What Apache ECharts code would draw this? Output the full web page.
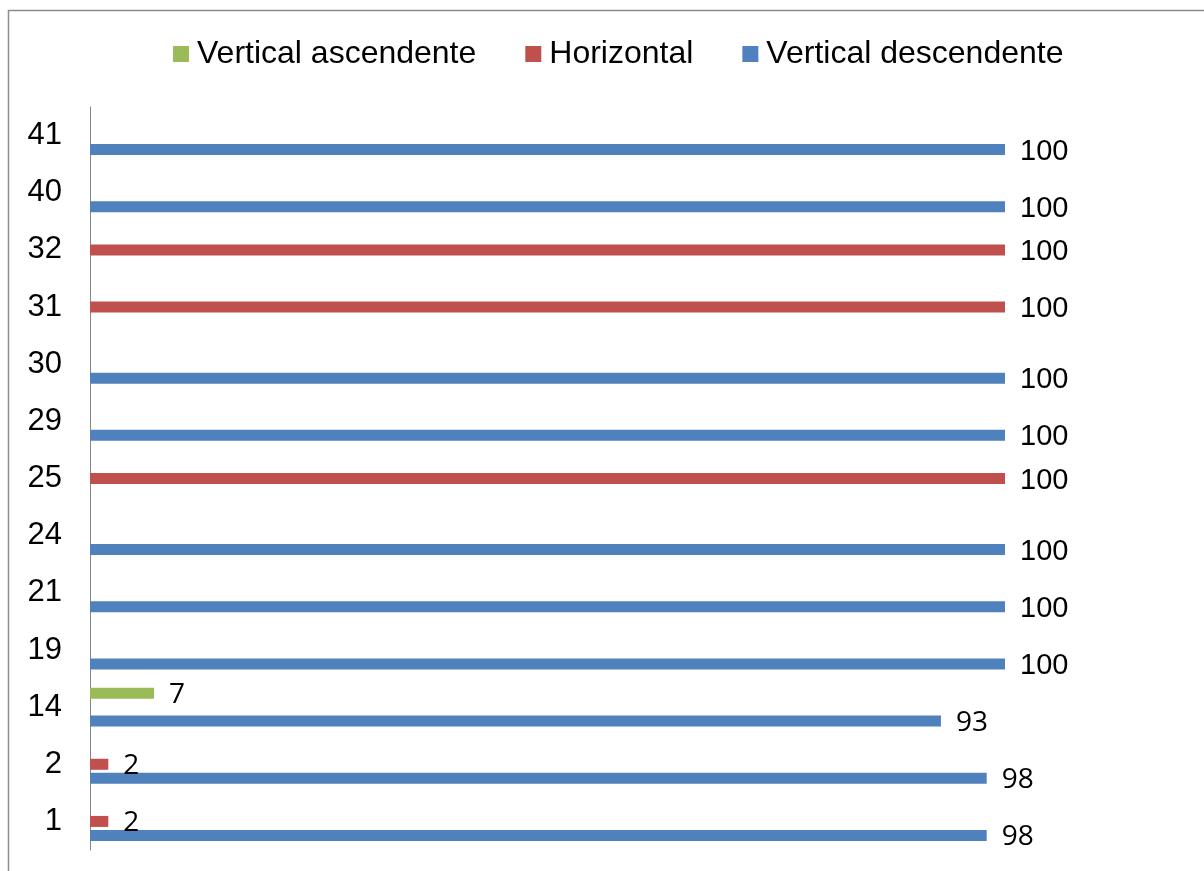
<!DOCTYPE html>
<html>
<head>
<meta charset="utf-8">
<title>Vertical ascendente / Horizontal / Vertical descendente</title>
<script src="https://cdn.jsdelivr.net/npm/echarts@6/dist/echarts.min.js"></script>
<style>
  html, body { margin: 0; padding: 0; background: #ffffff; }
  #chart { width: 1204px; height: 871px; }
</style>
</head>
<body>
<div id="chart"></div>
<script>
// Categories, listed bottom to top along the vertical axis
const categories = ['1', '2', '14', '19', '21', '24', '25', '29', '30', '31', '32', '40', '41'];

// Percentages per series (null = no bar in that category)
const verticalAscendente  = [null, null, 7, null, null, null, null, null, null, null, null, null, null];
const horizontal          = [2, 2, null, null, null, null, 100, null, null, 100, 100, null, null];
const verticalDescendente = [98, 98, 93, 100, 100, 100, null, 100, 100, null, null, 100, 100];

const seriesNames = ['Vertical ascendente', 'Horizontal', 'Vertical descendente'];
const seriesColors = ['#9BBB59', '#C0504D', '#4F81BD'];

const chart = echarts.init(document.getElementById('chart'), null, { renderer: 'canvas' });

const valueLabel = {
  show: true,
  position: 'right',
  distance: 15,
  formatter: function (p) {
    if (p.value === null || p.value === undefined) return '';
    return p.value === 100 ? '{full|' + p.value + '}' : '{part|' + p.value + '}';
  },
  rich: {
    full: { fontFamily: 'Liberation Sans, Arial, sans-serif', fontSize: 29, color: '#000', padding: [4, 0, 0, 0] },
    part: { fontFamily: 'Open Sans, sans-serif', fontSize: 28, color: '#000', padding: [4, 0, 0, 0] }
  }
};

function barSeries(name, data, color) {
  return {
    name: name,
    type: 'bar',
    data: data,
    barWidth: 11,
    barGap: '27%',
    itemStyle: { color: color },
    label: valueLabel,
    emphasis: { disabled: true }
  };
}

chart.setOption({
  animation: false,
  backgroundColor: '#ffffff',
  graphic: [{
    type: 'rect',
    shape: { x: 8.5, y: 10.5, width: 1300, height: 1000 },
    style: { fill: 'none', stroke: '#8c8c8c', lineWidth: 1.5 },
    silent: true
  }],
  legend: {
    data: seriesNames,
    left: 168,
    top: 33,
    itemWidth: 16,
    itemHeight: 16,
    itemGap: 49,
    icon: 'rect',
    selectedMode: false,
    textStyle: {
      fontFamily: 'Liberation Sans, Arial, sans-serif',
      fontSize: 32,
      color: '#000',
      padding: [0, 0, 0, 3]
    }
  },
  grid: {
    left: 90,
    right: 199,
    top: 107,
    bottom: 21,
    containLabel: false
  },
  xAxis: {
    type: 'value',
    min: 0,
    max: 100,
    show: false
  },
  yAxis: {
    type: 'category',
    data: categories,
    axisLine: { show: true, lineStyle: { color: '#868686', width: 1 } },
    axisTick: { show: false },
    splitLine: { show: false },
    axisLabel: {
      fontFamily: 'Liberation Sans, Arial, sans-serif',
      fontSize: 31,
      color: '#000',
      margin: 28
    }
  },
  series: [
    barSeries(seriesNames[0], verticalAscendente, seriesColors[0]),
    barSeries(seriesNames[1], horizontal, seriesColors[1]),
    barSeries(seriesNames[2], verticalDescendente, seriesColors[2])
  ]
});
</script>
</body>
</html>
